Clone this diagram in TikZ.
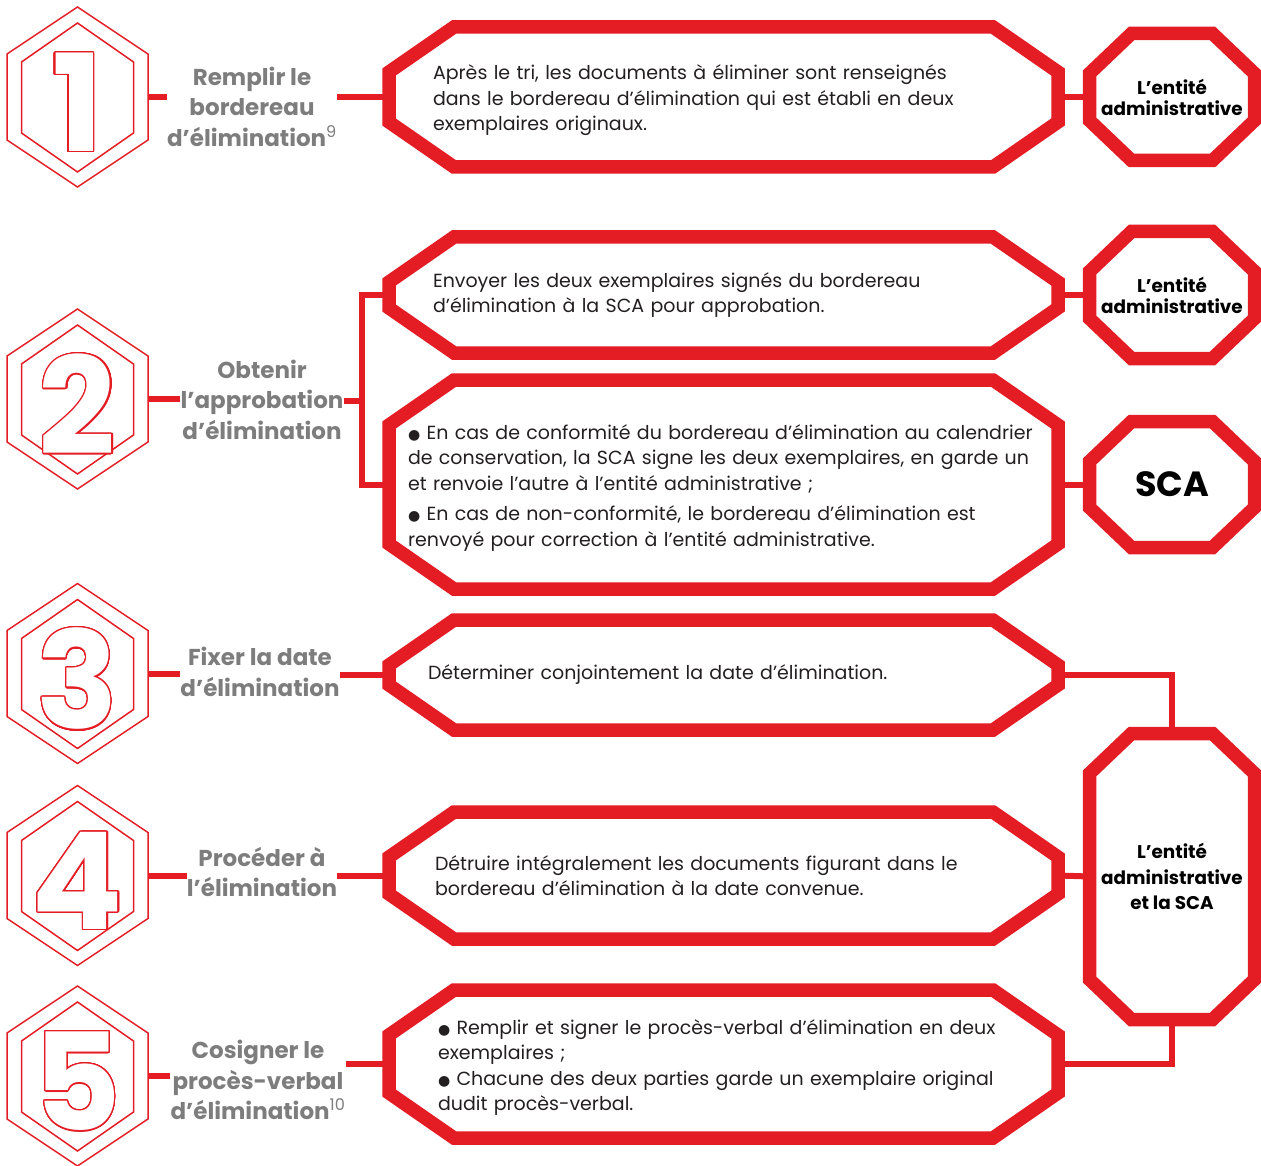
\documentclass[tikz,border=0pt]{standalone}
\usepackage{fontspec}
\setmainfont{Poppins}
\newfontfamily\symf{DejaVu Sans}
\usepackage{contour}
\contourlength{1.3pt}
\contournumber{32}
\usetikzlibrary{positioning, calc}

\definecolor{rouge}{RGB}{228,28,36}
\definecolor{grisl}{RGB}{125,125,125}
\definecolor{encre}{RGB}{35,31,32}

% chamfered border around a named node: node, dx, dy
\newcommand{\chamf}[3]{%
  \draw[rim] ([xshift=#2]#1.north west) -- ([xshift=-#2]#1.north east)
    -- ([yshift=-#3]#1.north east) -- ([yshift=#3]#1.south east)
    -- ([xshift=-#2]#1.south east) -- ([xshift=#2]#1.south west)
    -- ([yshift=#3]#1.south west) -- ([yshift=-#3]#1.north west) -- cycle;}
\newcommand{\puce}{{\symf\fontsize{14}{14}\selectfont ●}}

\begin{document}
\begin{tikzpicture}[x=1pt, y=-1pt,
  rim/.style={draw=rouge, line width=13.5pt, line join=miter},
  wire/.style={draw=rouge, line width=6pt},
  hexline/.style={draw=rouge, line width=1.5pt, line join=miter},
  task/.style={inner ysep=0pt, outer sep=0pt, minimum width=669pt, align=left, text=encre, font=\fontsize{19}{25.5}\selectfont},
  actor/.style={inner sep=0pt, outer sep=0pt, minimum width=165pt, align=center, text=black, font=\bfseries\fontsize{18.4}{21}\selectfont},
  stage/.style={inner sep=0pt, align=center, text=grisl, font=\bfseries\fontsize{23}{30.5}\selectfont},
  digit/.style={text=white, font=\bfseries\fontsize{135}{135}\selectfont, inner sep=0pt},
  ]

  \useasboundingbox (0,0) rectangle (1261,1166);

  % Hexagon icons
  \foreach \n/\y in {1/97, 2/399, 3/673.5, 4/875.5, 5/1076} {
    \node[minimum width=141pt, minimum height=180pt, inner sep=0pt, outer sep=0pt] (h\n) at (77.5,\y) {};
    \draw[hexline] (h\n.north) -- ++(70.5,47) -- ++(0,86) -- ++(-70.5,47) -- ++(-70.5,-47) -- ++(0,-86) -- cycle;
    \draw[hexline] (h\n.center) ++(0,-74) -- ++(56,39) -- ++(0,71) -- ++(-56,39) -- ++(-56,-39) -- ++(0,-71) -- cycle;
    \node[digit] (d\n) at ([yshift=-6pt]h\n.center) {\contour{rouge}{\n}};
  }

  % Stage labels
  \node[stage] (l1) at (252,106.5) {Remplir le\\bordereau\\d’élimination\textsuperscript{\mdseries 9}};
  \node[stage] (l2) at (262,399.5) {Obtenir\\l’approbation\\d’élimination};
  \node[stage] (l3) at (260,672) {Fixer la date\\d’élimination};
  \node[stage] (l4) at (262,872) {Procéder à\\l’élimination};
  \node[stage] (l5) at (258,1080) {Cosigner le\\procès-verbal\\d’élimination\textsuperscript{\mdseries 10}};

  % Task boxes
  \node[task, inner xsep=44pt, text width=581pt, minimum height=140pt] (b1) at (723.5,97)
    {\rule{0pt}{22pt}Après le tri, les documents à éliminer sont renseignés\\dans le bordereau d’élimination qui est établi en deux\\exemplaires originaux.};
  \node[task, inner xsep=44pt, text width=581pt, minimum height=116pt] (b2a) at (723.5,295)
    {Envoyer les deux exemplaires signés du bordereau\\d’élimination à la SCA pour approbation.};
  \node[task, inner xsep=19pt, text width=631pt, minimum height=209pt] (b2b) at (723.5,484.5)
    {\rule{0pt}{21pt}\puce{} En cas de conformité du bordereau d’élimination au calendrier\\de conservation, la SCA signe les deux exemplaires, en garde un\\et renvoie l’autre à l’entité administrative~;\\[5pt]\puce{} En cas de non-conformité, le bordereau d’élimination est\\renvoyé pour correction à l’entité administrative.};
  \node[task, inner xsep=39pt, text width=591pt, minimum height=110pt] (b3) at (723.5,675)
    {Déterminer conjointement la date d’élimination.};
  \node[task, inner xsep=46pt, text width=577pt, minimum height=127pt] (b4) at (723.5,875.5)
    {Détruire intégralement les documents figurant dans le\\bordereau d’élimination à la date convenue.};
  \node[task, inner xsep=49pt, text width=571pt, minimum height=148pt] (b5) at (723.5,1064)
    {\rule{0pt}{22pt}\puce{} Remplir et signer le procès-verbal d’élimination en deux\\exemplaires~;\\\puce{} Chacune des deux parties garde un exemplaire original\\dudit procès-verbal.};

  % Actors
  \node[actor, minimum height=127pt] (r1) at (1172,97) {L’entité\\administrative};
  \node[actor, minimum height=127pt] (r2) at (1172,295) {L’entité\\administrative};
  \node[actor, minimum height=126pt, font=\bfseries\fontsize{35}{35}\selectfont] (r3) at (1172,484.5) {SCA};
  \node[actor, minimum height=286pt, font=\bfseries\fontsize{18.4}{25.5}\selectfont] (r4) at (1172,876.5) {L’entité\\administrative\\et la SCA};

  % Connectors
  \coordinate (bus) at (362,401);
  \foreach \n in {1,...,5}
    \draw[wire] (h\n.east) -- (h\n.east -| l\n.west);
  \draw[wire] (l1.east |- b1.west) -- (b1.west);
  \draw[wire] (l2.east |- bus) -- (bus);
  \draw[wire] (b2a.west) -| (bus) |- (b2b.west);
  \draw[wire] (l3.east |- b3.west) -- (b3.west);
  \draw[wire] (l4.east |- b4.west) -- (b4.west);
  \draw[wire] (l5.east |- b5.west) -- (b5.west);
  \draw[wire] (b1.east) -- (r1.west);
  \draw[wire] (b2a.east) -- (r2.west);
  \draw[wire] (b2b.east) -- (r3.west);
  \draw[wire] (b3.east) -| (r4.north);
  \draw[wire] (b4.east) -- (r4.west);
  \draw[wire] (r4.south) |- (b5.east);

  % Borders
  \foreach \b in {b1,b2a,b2b,b3,b4,b5}
    \chamf{\b}{65pt}{45pt};
  \foreach \r in {r1,r2,r3,r4}
    \chamf{\r}{42pt}{40pt};

\end{tikzpicture}
\end{document}
